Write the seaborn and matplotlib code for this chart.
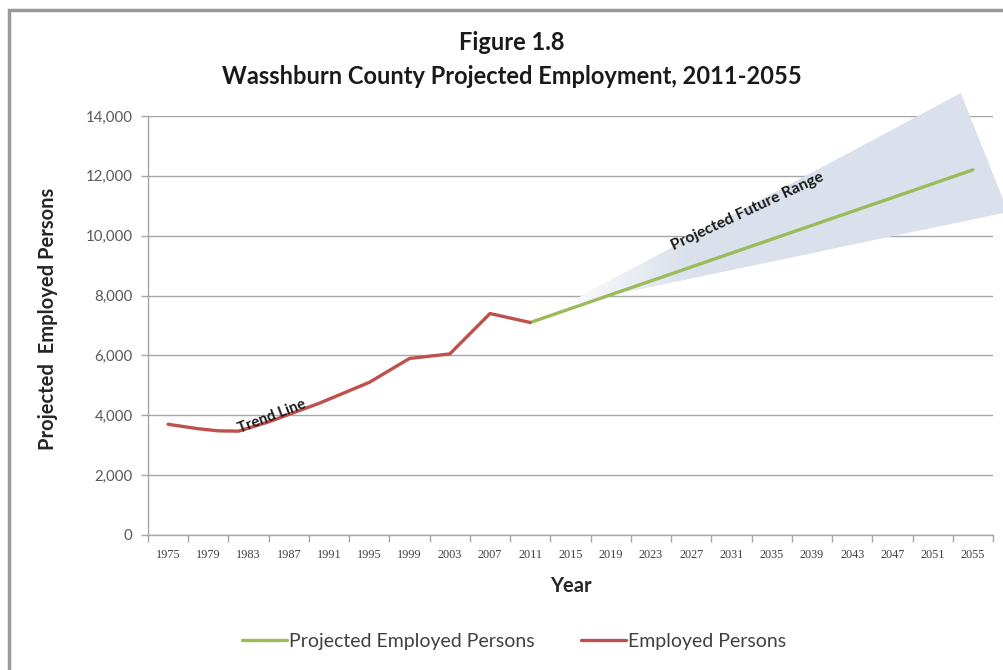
import numpy as np
import pandas as pd
import matplotlib
matplotlib.use("Agg")
import matplotlib.pyplot as plt
from matplotlib.patches import Polygon, Rectangle
from matplotlib.colors import LinearSegmentedColormap
import seaborn as sns

# Employment history and projection
employed_years = [1975, 1978, 1980, 1982, 1985, 1990, 1995, 1999, 2003, 2007, 2011]
employed_values = [3700, 3550, 3480, 3470, 3780, 4400, 5100, 5900, 6050, 7400, 7100]

projected_years = [2011, 2055]
projected_values = [7100, 12200]

# Projected future range (light band)
range_years = [2014.5, 2053.8, 2058.5]
range_values = [7700, 14770, 10790]

tick_years = list(range(1975, 2056, 4))
y_ticks = list(range(0, 14001, 2000))

red = "#c0504d"
green = "#9bbb59"
band = "#dbe1ec"
grid_c = "#a6a6a6"
text_c = "#404040"

df = pd.concat([
    pd.DataFrame({"Year": projected_years, "Persons": projected_values,
                  "Series": "Projected Employed Persons"}),
    pd.DataFrame({"Year": employed_years, "Persons": employed_values,
                  "Series": "Employed Persons"}),
], ignore_index=True)

sns.set_theme(style="white")
plt.rcParams["font.family"] = ["Lato", "DejaVu Sans"]

fig = plt.figure(figsize=(10.04, 6.70), dpi=100)
ax = fig.add_axes([148 / 1004, 1 - 535 / 670, (993 - 148) / 1004, (535 - 116) / 670])

# Band with a soft fade-in at its left tip
poly = Polygon(list(zip(range_years, range_values)), closed=True,
               facecolor="none", edgecolor="none")
ax.add_patch(poly)
cmap = LinearSegmentedColormap.from_list("fade", ["#ffffff", band, band])
grad = np.linspace(0, 1, 256).reshape(1, -1)
im = ax.imshow(grad, cmap=cmap, extent=(2013, 2040, 6000, 16000),
               aspect="auto", origin="lower", zorder=1, interpolation="bicubic")
im.set_clip_path(poly)
im.set_clip_box(fig.bbox)
solid = Polygon(list(zip(range_years, range_values)), closed=True,
                facecolor=band, edgecolor="none", zorder=0.9, clip_on=False)
# solid part beyond the gradient extent
solid_clip = Rectangle((2040, 0), 30, 20000, transform=ax.transData)
ax.add_patch(solid)
solid.set_clip_path(solid_clip)

sns.lineplot(data=df, x="Year", y="Persons", hue="Series",
             palette={"Projected Employed Persons": green, "Employed Persons": red},
             hue_order=["Projected Employed Persons", "Employed Persons"],
             linewidth=2.4, ax=ax, zorder=3, estimator=None, sort=True)

ax.set_xlim(1973, 2057)
ax.set_ylim(0, 14000)
ax.set_yticks(y_ticks)
ax.set_yticklabels([f"{v:,}" for v in y_ticks])
ax.set_xticks(tick_years)
ax.set_xticklabels([str(y) for y in tick_years])
ax.set_xticks(list(range(1973, 2058, 4)), minor=True)
ax.tick_params(axis="x", which="major", length=0, pad=10, labelsize=8.8, labelcolor=text_c)
ax.tick_params(axis="x", which="minor", length=5, width=1, color=grid_c, bottom=True)
ax.tick_params(axis="y", length=5, width=1, color=grid_c, left=True, labelsize=10.8,
               labelcolor="#595959", pad=6)
for lab in ax.get_xticklabels():
    lab.set_fontfamily(["Liberation Serif", "DejaVu Serif"])

ax.yaxis.grid(True, color=grid_c, linewidth=1)
ax.xaxis.grid(False)
for s in ["top", "right"]:
    ax.spines[s].set_visible(False)
for s in ["left", "bottom"]:
    ax.spines[s].set_color(grid_c)
    ax.spines[s].set_linewidth(1)

ax.set_xlabel("Year", fontsize=14.5, fontweight="bold", color="#262626")
ax.set_ylabel("Projected  Employed Persons", fontsize=14.5, fontweight="bold", color="#262626")
ax.xaxis.set_label_coords((571 - 148) / 845, (535 - 576) / 419)
ax.yaxis.set_label_coords((58 - 148) / 845, (535 - 319) / 419)

ax.text(1985.3, 3950, "Trend Line", fontsize=10.8, fontweight="bold", rotation=21,
        ha="center", va="center", color="#1a1a1a", zorder=4)
ax.text(2032.6, 10800, "Projected Future Range", fontsize=11.3, fontweight="bold", rotation=25,
        ha="center", va="center", color="#1a1a1a", zorder=4)

fig.text(0.51, 1 - 43 / 670, "Figure 1.8", ha="center", va="center",
         fontsize=17, fontweight="bold", color="#1a1a1a")
fig.text(0.51, 1 - 76 / 670, "Wasshburn County Projected Employment, 2011-2055", ha="center",
         va="center", fontsize=17, fontweight="bold", color="#1a1a1a")

leg = ax.legend(loc="center", bbox_to_anchor=((514 - 148) / 845, (535 - 641) / 419), ncol=2,
                frameon=False, fontsize=14, handlelength=2.3, handletextpad=0.1,
                columnspacing=2.4, labelcolor=text_c)
leg.set_title(None)

fig.patches.append(Rectangle((9 / 1004, -0.1), 1.2, 1.1 - 10 / 670, transform=fig.transFigure,
                             fill=False, edgecolor="#9a9a9a", linewidth=2.5))

fig.savefig("out.png", dpi=100, facecolor="white")
